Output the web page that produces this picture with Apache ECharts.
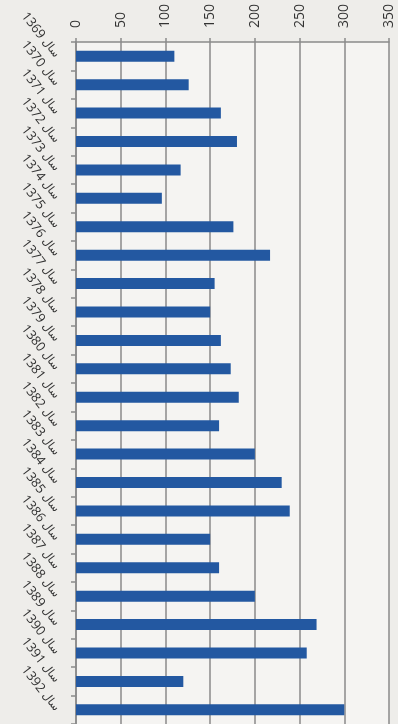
<!DOCTYPE html>
<html>
<head>
<meta charset="utf-8">
<script src="https://cdn.jsdelivr.net/npm/echarts@6/dist/echarts.min.js"></script>
<style>
html,body{margin:0;padding:0;background:#eeedea;}
#chart{width:398px;height:724px;}
</style>
</head>
<body>
<div id="chart"></div>
<script>
const years = ['1369','1370','1371','1372','1373','1374','1375','1376','1377','1378','1379','1380','1381','1382','1383','1384','1385','1386','1387','1388','1389','1390','1391','1392'];
const yearWord = 'سال';
const categories = years.map(y => y + ' ' + yearWord);
const values = [110,126,162,180,117,96,176,217,155,150,162,173,182,160,200,230,239,150,160,200,269,258,120,300];
const valueTicks = [0,50,100,150,200,250,300,350];

const chart = echarts.init(document.getElementById('chart'));
chart.setOption({
  backgroundColor: '#eeedea',
  animation: false,
  grid: {left: 76, top: 42, width: 313, height: 685, show: true, backgroundColor: '#f5f4f2', borderWidth: 0},
  xAxis: {
    type: 'value', position: 'top',
    min: valueTicks[0], max: valueTicks[valueTicks.length-1], interval: 50,
    axisLine: {show: true, lineStyle: {color: '#8a8a8a', width: 1.5}},
    axisTick: {show: true, length: 4, lineStyle: {color: '#8a8a8a', width: 1.5}},
    splitLine: {show: true, lineStyle: {color: '#8a8a8a', width: 1.5}},
    axisLabel: {rotate: -90, fontSize: 14, color: '#333', margin: 14, fontFamily: 'Open Sans'}
  },
  yAxis: {
    type: 'category', inverse: true, data: categories,
    axisLine: {show: true, lineStyle: {color: '#8a8a8a', width: 1.5}},
    axisTick: {show: true, length: 5, lineStyle: {color: '#8a8a8a', width: 1.5}},
    axisLabel: {
      rotate: -52, color: '#333', margin: 19, interval: 0,
      formatter: function (v) {
        const parts = v.split(' ');
        return '{n|' + parts[0] + '} {a|' + parts[1] + '}';
      },
      rich: {
        n: {fontSize: 13, fontFamily: 'Open Sans', color: '#333'},
        a: {fontSize: 11, fontFamily: 'DejaVu Sans', color: '#333'}
      }
    }
  },
  series: [{
    type: 'bar', data: values, barWidth: 11,
    itemStyle: {color: '#2358a1'}
  }]
});
</script>
</body>
</html>
